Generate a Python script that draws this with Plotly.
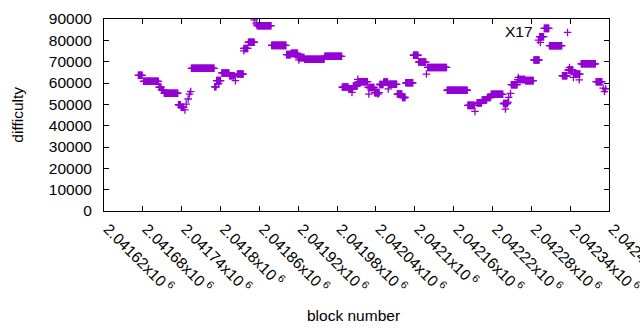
import plotly.graph_objects as go

# runs of consecutive blocks with the same difficulty
run_start = [2041673, 2041681, 2041705, 2041709, 2041713, 2041735, 2041739, 2041755, 2041791, 2041794,
             2041802, 2041814, 2041826, 2041836, 2041843, 2041857, 2041879, 2041902, 2041909, 2041920,
             2041930, 2041961, 2041989, 2041998, 2042005, 2042013, 2042030, 2042038, 2042046, 2042052,
             2042060, 2042073, 2042081, 2042086, 2042098, 2042106, 2042120, 2042150, 2042182, 2042196,
             2042204, 2042212, 2042218, 2042237, 2042249, 2042259, 2042271, 2042284, 2042293, 2042300,
             2042308, 2042328, 2042337, 2042346, 2042357, 2042380]
run_end = [2041679, 2041704, 2041708, 2041712, 2041734, 2041738, 2041743, 2041790, 2041793, 2041800,
           2041813, 2041821, 2041835, 2041842, 2041852, 2041878, 2041901, 2041908, 2041919, 2041929,
           2041960, 2041987, 2041997, 2042004, 2042011, 2042027, 2042037, 2042045, 2042051, 2042058,
           2042072, 2042080, 2042085, 2042097, 2042105, 2042117, 2042149, 2042181, 2042192, 2042203,
           2042211, 2042217, 2042236, 2042243, 2042258, 2042270, 2042283, 2042292, 2042299, 2042307,
           2042327, 2042335, 2042344, 2042355, 2042379, 2042389]
run_diff = [63600, 60800, 58100, 56700, 55200, 49800, 48600, 66900, 58200, 61100,
            64700, 63400, 64200, 76200, 79100, 86850, 77650, 73300, 73900, 71900,
            71100, 72500, 58100, 57300, 58600, 60600, 57900, 55500, 59300, 60450,
            59400, 54800, 53200, 60100, 73000, 69800, 67300, 56600, 49500, 50600,
            52000, 53200, 54700, 50400, 59200, 61600, 61100, 70800, 81700, 85600,
            77500, 63400, 66100, 64200, 69000, 60600]

# isolated blocks
single_block = [2041745, 2041747, 2041750, 2041752, 2041754, 2041797, 2041823, 2041836, 2041852, 2041855,
                2041856, 2041921, 2041988, 2042003, 2042012, 2042028, 2042029, 2042043, 2042059, 2042118,
                2042193, 2042240, 2042244, 2042245, 2042248, 2042260, 2042291, 2042294, 2042336, 2042339,
                2042345, 2042354, 2042391, 2042393, 2042395]
single_diff = [47400, 50100, 52500, 54800, 56000, 59600, 61100, 75100, 89600, 88100,
               87200, 70800, 58000, 55600, 61700, 58000, 54800, 54800, 57200, 64200,
               46700, 47800, 51000, 53300, 55100, 62600, 80100, 79000, 83700, 67300,
               62600, 61500, 57600, 56000, 57300]

x_tick_vals = [2041620, 2041680, 2041740, 2041800, 2041860, 2041920, 2041980,
               2042040, 2042100, 2042160, 2042220, 2042280, 2042340, 2042400]
x_tick_text = ["2.04162", "2.04168", "2.04174", "2.0418", "2.04186", "2.04192", "2.04198",
               "2.04204", "2.0421", "2.04216", "2.04222", "2.04228", "2.04234", "2.0424"]
y_tick_vals = [0, 10000, 20000, 30000, 40000, 50000, 60000, 70000, 80000, 90000]

blocks, diffs = [], []
for s, e, d in zip(run_start, run_end, run_diff):
    for b in range(s, e + 1):
        blocks.append(b)
        diffs.append(d)
blocks += single_block
diffs += single_diff

FONT = "Liberation Sans, Arial, sans-serif"
PURPLE = "#9400d3"

fig = go.Figure()
fig.add_trace(go.Scatter(
    x=blocks, y=diffs, mode="markers",
    marker=dict(symbol="cross-thin", size=5.4, color=PURPLE,
                line=dict(color=PURPLE, width=1.3)),
    showlegend=False, hoverinfo="skip",
))

axis_common = dict(showline=True, linecolor="black", linewidth=1, mirror="allticks",
                   ticks="inside", ticklen=5, tickcolor="black", tickwidth=1,
                   showgrid=False, zeroline=False, automargin=False,
                   ticklabeloverflow="allow",
                   tickfont=dict(family=FONT, size=15.5, color="black"))

fig.update_layout(
    width=640, height=330,
    margin=dict(l=104, r=31, t=19, b=119),
    paper_bgcolor="white", plot_bgcolor="white",
    xaxis=dict(range=[2041620, 2042400], tickvals=x_tick_vals,
               ticktext=[t + "x10<sup> 6</sup>" for t in x_tick_text],
               tickangle=45, ticklabelshift=4, ticklabelstandoff=2, **axis_common),
    yaxis=dict(range=[0, 90000], tickvals=y_tick_vals,
               ticktext=[str(v) for v in y_tick_vals],
               ticklabelstandoff=8, **axis_common),
    annotations=[
        dict(text="X17", xref="paper", yref="paper", x=0.853, y=0.935,
             xanchor="right", yanchor="middle", showarrow=False,
             font=dict(family=FONT, size=15.5, color="black")),
        dict(text="difficulty", xref="paper", yref="paper", x=-0.173, y=0.5,
             xanchor="center", yanchor="middle", textangle=-90, showarrow=False,
             font=dict(family=FONT, size=15.5, color="black")),
        dict(text="block number", xref="paper", yref="paper", x=0.494, y=-0.542,
             xanchor="center", yanchor="middle", showarrow=False,
             font=dict(family=FONT, size=15.5, color="black")),
    ],
)

fig.write_html("out.html", config={"displayModeBar": False})

# remove the default page margin so the figure sits at the window's top-left corner
with open("out.html", encoding="utf-8") as f:
    html = f.read()
html = html.replace("<head>", "<head><style>html,body{margin:0;padding:0;overflow:hidden}</style>", 1)
with open("out.html", "w", encoding="utf-8") as f:
    f.write(html)
